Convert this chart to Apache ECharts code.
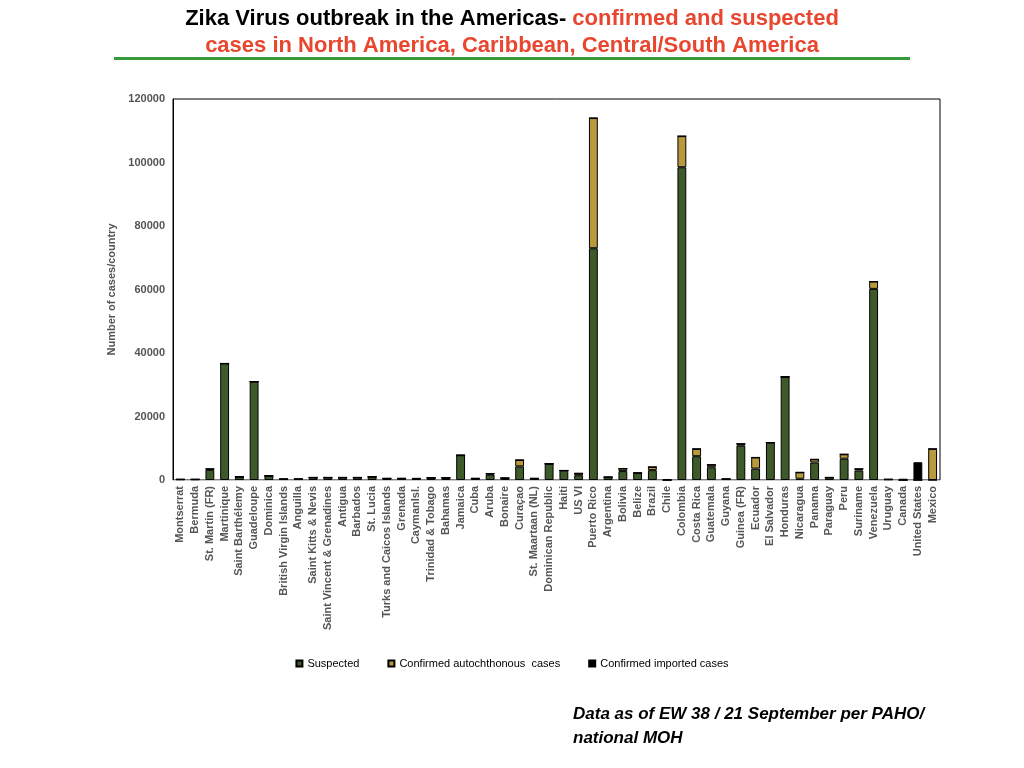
<!DOCTYPE html><html><head><meta charset="utf-8"><script src="https://cdn.jsdelivr.net/npm/echarts@6/dist/echarts.min.js"></script>
<style>body{margin:0;background:#fff}#c{width:1024px;height:768px}</style></head><body><div id="c"></div><script>
const countries=["Montserrat","Bermuda","St. Martin (FR)","Martinique","Saint Barthélemy","Guadeloupe","Dominica","British Virgin Islands","Anguilla","Saint Kitts & Nevis","Saint Vincent & Grenadines","Antigua","Barbados","St. Lucia","Turks and Caicos Islands","Grenada","CaymanIsl.","Trinidad & Tobago","Bahamas","Jamaica","Cuba","Aruba","Bonaire","Curaçao","St. Maartaan (NL)","Dominican Republic","Haiti","US VI","Puerto Rico","Argentina","Bolivia","Belize","Brazil","Chile","Colombia","Costa Rica","Guatemala","Guyana","Guinea (FR)","Ecuador","El Salvador","Honduras","Nicaragua","Panama","Paraguay","Peru","Suriname","Venezuela","Uruguay","Canada","United States","Mexico"];
const suspected=[200,200,3200,36700,1000,31000,1300,300,300,800,800,800,800,1000,500,500,400,700,700,7800,500,1700,600,4300,500,5100,3000,1500,73000,900,2800,2200,3100,0,98500,7500,4000,300,10800,3600,11800,32500,400,5500,800,6700,3000,60200,200,0,0,0];
const autoch=[0,0,300,0,0,0,0,0,0,0,0,0,0,0,0,0,100,0,0,0,0,300,0,2000,0,0,0,600,41000,0,800,0,1000,0,9800,2300,800,0,600,3500,0,0,2000,1000,0,1400,500,2300,0,0,100,9800];
const imported=[0,0,0,0,0,0,0,0,0,0,0,0,0,0,0,0,0,0,0,0,0,0,0,0,0,0,0,0,0,0,0,0,0,300,0,0,0,0,0,0,0,0,0,0,0,0,0,0,0,400,5500,0];
const c=echarts.init(document.getElementById('c'));
const bs={borderColor:'#000',borderWidth:1};
c.setOption({
title:{text:'{a|Zika Virus outbreak in the Americas- }{b|confirmed and suspected}\n{b|cases in North America, Caribbean, Central/South America}',left:'center',top:0,textStyle:{rich:{a:{fontSize:22,fontWeight:'bold',color:'#000',fontFamily:'Liberation Sans',lineHeight:27},b:{fontSize:22,fontWeight:'bold',color:'#e8462e',fontFamily:'Liberation Sans',lineHeight:27}}}},
graphic:[{type:'rect',shape:{x:114,y:57,width:796,height:3},style:{fill:'#3a9a37'}},
{type:'text',left:573,top:702,style:{text:'Data as of EW 38 / 21 September per PAHO/\nnational MOH',font:'italic bold 17px Liberation Sans',fill:'#000',lineHeight:24}},
{type:'rect',shape:{x:173,y:99,width:767,height:381},style:{fill:'none',stroke:'#000',lineWidth:1}}],
grid:{left:173,right:84,top:99,bottom:288},
legend:{bottom:94,left:'center',itemWidth:6,itemHeight:6,icon:'rect',itemGap:28,textStyle:{fontSize:11,color:'#000',fontFamily:'Liberation Sans'},data:['Suspected','Confirmed autochthonous  cases','Confirmed imported cases']},
xAxis:{type:'category',data:countries,axisTick:{show:false},axisLine:{lineStyle:{color:'#ccc'}},axisLabel:{rotate:90,interval:0,fontSize:11,fontWeight:'bold',color:'#555',fontFamily:'Liberation Sans',margin:6}},
yAxis:{type:'value',min:0,max:120000,interval:20000,name:'Number of cases/country',nameLocation:'middle',nameGap:50,nameTextStyle:{fontSize:11,fontWeight:'bold',color:'#555'},axisLine:{show:true,lineStyle:{color:'#000'}},splitLine:{show:false},axisLabel:{fontSize:11,fontWeight:'bold',color:'#555',formatter:v=>String(v)}},
series:[
{name:'Suspected',type:'bar',stack:'a',data:suspected,barWidth:'60%',itemStyle:Object.assign({color:'#3f5a2a'},bs)},
{name:'Confirmed autochthonous  cases',type:'bar',stack:'a',data:autoch,itemStyle:Object.assign({color:'#b8993c'},bs)},
{name:'Confirmed imported cases',type:'bar',stack:'a',data:imported,itemStyle:Object.assign({color:'#000'},bs)}]
});
</script></body></html>
